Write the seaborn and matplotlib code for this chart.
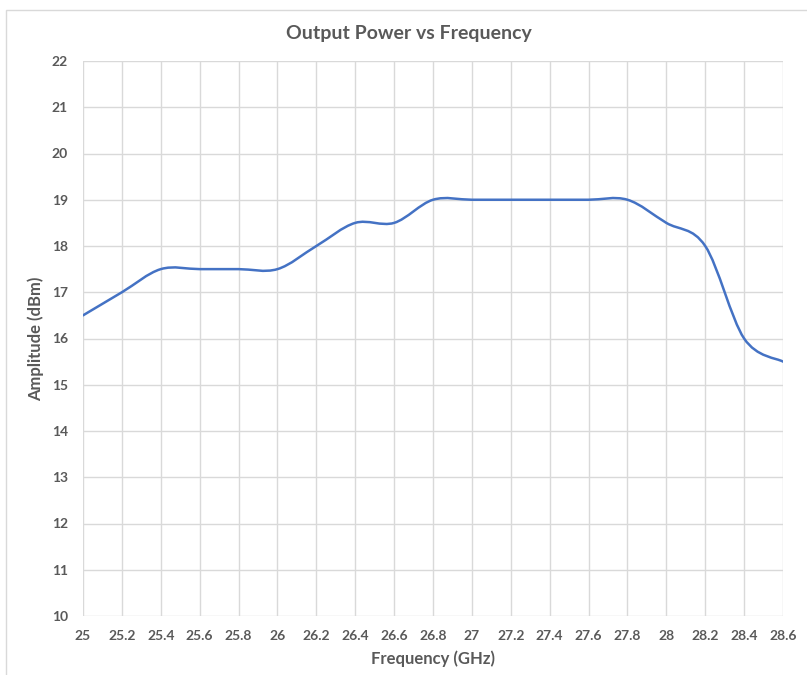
import matplotlib
matplotlib.use("Agg")
import matplotlib.pyplot as plt
import seaborn as sns
import pandas as pd
from matplotlib.path import Path
from matplotlib.patches import PathPatch, Rectangle

# data
freq_ghz = [25.0, 25.2, 25.4, 25.6, 25.8, 26.0, 26.2, 26.4, 26.6, 26.8,
            27.0, 27.2, 27.4, 27.6, 27.8, 28.0, 28.2, 28.4, 28.6]
amplitude_dbm = [16.5, 17.0, 17.5, 17.5, 17.5, 17.5, 18.0, 18.5, 18.5, 19.0,
                 19.0, 19.0, 19.0, 19.0, 19.0, 18.5, 18.0, 16.0, 15.5]
x_ticks = freq_ghz
x_tick_labels = ["25", "25.2", "25.4", "25.6", "25.8", "26", "26.2", "26.4", "26.6", "26.8",
                 "27", "27.2", "27.4", "27.6", "27.8", "28", "28.2", "28.4", "28.6"]
y_ticks = list(range(10, 23))

sns.set_style("white")
plt.rcParams["font.family"] = ["Lato", "DejaVu Sans"]

text_color = "#595959"
grid_color = "#d9d9d9"
line_color = "#4472c4"

fig = plt.figure(figsize=(8.07, 6.75), dpi=100)
ax = fig.add_axes([83 / 807, 1 - 616 / 675, 700 / 807, 555 / 675])

df = pd.DataFrame({"freq": freq_ghz, "amp": amplitude_dbm})
sns.lineplot(data=df, x="freq", y="amp", ax=ax, color=line_color, linewidth=0)
for ln in ax.lines:
    ln.set_visible(False)

# smoothed line like the spreadsheet's "smoothed line" option (Bezier through the data points)
xs, ys = freq_ghz, amplitude_dbm
n = len(xs)
verts = [(xs[0], ys[0])]
codes = [Path.MOVETO]
for i in range(n - 1):
    x0, y0 = xs[max(i - 1, 0)], ys[max(i - 1, 0)]
    x1, y1 = xs[i], ys[i]
    x2, y2 = xs[i + 1], ys[i + 1]
    x3, y3 = xs[min(i + 2, n - 1)], ys[min(i + 2, n - 1)]
    c1 = (x1 + (x2 - x0) / 6, y1 + (y2 - y0) / 6)
    c2 = (x2 - (x3 - x1) / 6, y2 - (y3 - y1) / 6)
    verts += [c1, c2, (x2, y2)]
    codes += [Path.CURVE4] * 3
ax.add_patch(PathPatch(Path(verts, codes), facecolor="none", edgecolor=line_color,
                       linewidth=1.8, capstyle="round", joinstyle="round", zorder=3))

ax.set_xlim(25, 28.6)
ax.set_ylim(10, 22)
ax.set_xticks(x_ticks)
ax.set_xticklabels(x_tick_labels)
ax.set_yticks(y_ticks)
ax.grid(True, color=grid_color, linewidth=1)
ax.set_axisbelow(True)
for s in ax.spines.values():
    s.set_visible(False)
ax.tick_params(axis="both", length=0, labelsize=10, labelcolor=text_color)
ax.tick_params(axis="x", pad=10)
ax.tick_params(axis="y", pad=11)
for lab in ax.get_xticklabels() + ax.get_yticklabels():
    lab.set_fontweight("bold")

ax.set_xlabel("Frequency (GHz)", fontsize=12, fontweight="bold", color=text_color, labelpad=6)
ax.set_ylabel("Amplitude (dBm)", fontsize=12, fontweight="bold", color=text_color, labelpad=5)
fig.text(409 / 807, 1 - 33 / 675, "Output Power vs Frequency", ha="center", va="center",
         fontsize=14, fontweight="bold", color=text_color)

# chart frame
fig.patches.append(Rectangle((6 / 807, -0.05), 1.1, 1 - 10 / 675 + 0.05, transform=fig.transFigure,
                             facecolor="none", edgecolor="#d9d9d9", linewidth=1, zorder=0))

fig.savefig("out.png", dpi=100)
